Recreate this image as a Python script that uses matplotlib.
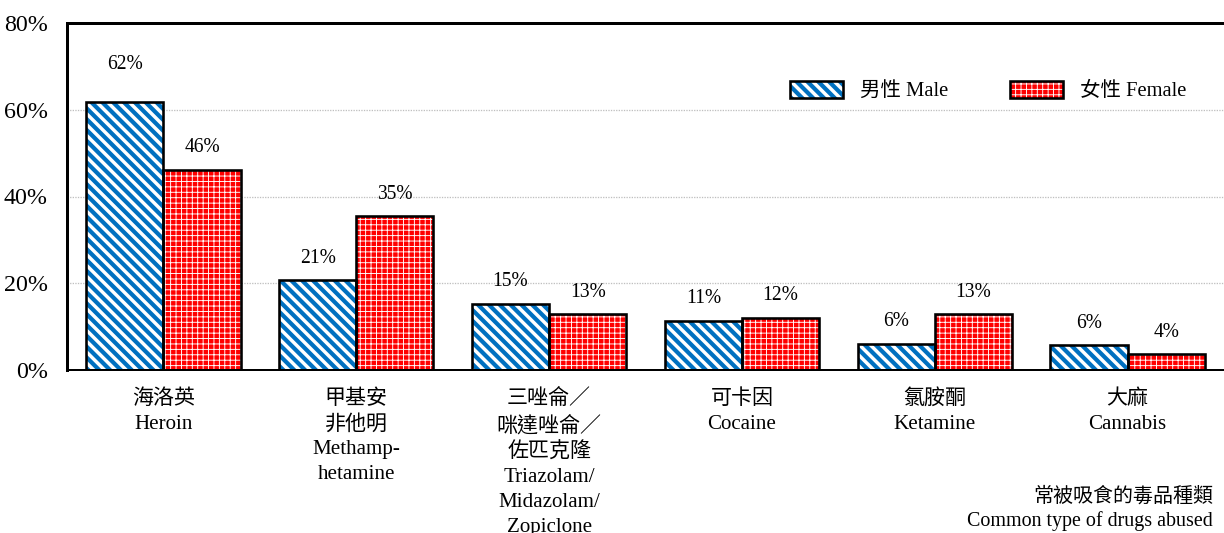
import matplotlib.pyplot as plt
import numpy as np
from matplotlib.patches import Patch
from matplotlib.ticker import FuncFormatter, MultipleLocator

DPI = 130

categories = [
    "海洛英\nHeroin",
    "甲基安\n非他明\nMethamp-\nhetamine",
    "三唑侖／\n咪達唑侖／\n佐匹克隆\nTriazolam/\nMidazolam/\nZopiclone",
    "可卡因\nCocaine",
    "氯胺酮\nKetamine",
    "大麻\nCannabis",
]
male = [61.8, 20.7, 15.3, 11.4, 6.1, 5.7]
female = [46.2, 35.4, 12.8, 12.0, 12.8, 3.6]
male_labels = ["62%", "21%", "15%", "11%", "6%", "6%"]
female_labels = ["46%", "35%", "13%", "12%", "13%", "4%"]
series_names = ["男性 Male", "女性 Female"]
x_title = "常被吸食的毒品種類\nCommon type of drugs abused"

BLUE = "#0070C0"
RED = "#FF0000"
MALE_HATCH = "\\\\\\\\"
FEMALE_HATCH = "++++"


def pt(px):
    # pixel size -> points at the figure dpi
    return px * 72 / DPI


MALE_HLW = pt(4.2)
FEMALE_HLW = pt(0.9)

plt.rcParams["font.family"] = ["Liberation Serif", "Noto Sans CJK TC"]

fig = plt.figure(figsize=(1224 / DPI, 533 / DPI), dpi=DPI)
ax = fig.add_axes([67 / 1224, 1 - 370 / 533, 1 - 67 / 1224, (370 - 23) / 533])

x = np.arange(len(categories))
width = 0.4


def set_hlw(patches, hlw):
    for p in patches:
        if hasattr(p, "set_hatch_linewidth"):
            p.set_hatch_linewidth(hlw)


def hatched(xs, vals, face, hcolor, hatch, hlw):
    with plt.rc_context({"hatch.linewidth": hlw}):
        bars = ax.bar(xs, vals, width, color=face, edgecolor=hcolor, hatch=hatch,
                      linewidth=0, zorder=2)
    set_hlw(bars, hlw)
    ax.bar(xs, vals, width, fill=False, edgecolor="black", linewidth=pt(2.6), zorder=3)


hatched(x - width / 2, male, "white", BLUE, MALE_HATCH, MALE_HLW)
hatched(x + width / 2, female, RED, "white", FEMALE_HATCH, FEMALE_HLW)

for i, (xi, v, s) in enumerate(zip(x - width / 2, male, male_labels)):
    lift = 37 if i == 0 else 22
    ax.annotate(s, (xi, v), xytext=(0, pt(lift)), textcoords="offset points",
                ha="center", va="center", fontsize=pt(19.5))
for xi, v, s in zip(x + width / 2, female, female_labels):
    ax.annotate(s, (xi, v), xytext=(0, pt(22)), textcoords="offset points",
                ha="center", va="center", fontsize=pt(19.5))

ax.set_xlim(-0.5, len(categories) - 0.5)
ax.set_ylim(0, 80)
ax.yaxis.set_major_locator(MultipleLocator(20))
ax.yaxis.set_major_formatter(FuncFormatter(lambda v, _: f"{v:.0f}%"))
ax.set_xticks(x)
ax.set_xticklabels(categories, linespacing=1.42)
ax.tick_params(axis="y", length=0, pad=pt(19), labelsize=pt(24))
ax.tick_params(axis="x", length=0, pad=pt(19), labelsize=pt(21))

ax.yaxis.grid(True, color="#BFBFBF", linestyle=(0, (1, 1)), linewidth=pt(1.3))
ax.set_axisbelow(True)

ax.spines["right"].set_visible(False)
ax.spines["left"].set_linewidth(pt(3))
ax.spines["top"].set_linewidth(pt(3))
ax.spines["bottom"].set_linewidth(pt(2))

fs = 20.5
handles = [
    (Patch(facecolor="white", edgecolor=BLUE, hatch=MALE_HATCH, linewidth=0),
     Patch(fill=False, edgecolor="black", linewidth=pt(2.6))),
    (Patch(facecolor=RED, edgecolor="white", hatch=FEMALE_HATCH, linewidth=0),
     Patch(fill=False, edgecolor="black", linewidth=pt(2.6))),
]
leg = ax.legend(handles, series_names, loc="center left",
                bbox_to_anchor=(790 / 1224, 1 - 91 / 533), bbox_transform=fig.transFigure,
                ncol=2, frameon=False, fontsize=pt(fs), handlelength=53 / fs,
                handleheight=19 / fs, handletextpad=17 / fs, columnspacing=62 / fs,
                borderpad=0, borderaxespad=0)
# legend draws copies of the patches; give them the hatch widths too
for art in leg.findobj(Patch):
    if art.get_hatch() == MALE_HATCH:
        set_hlw([art], MALE_HLW)
    elif art.get_hatch() == FEMALE_HATCH:
        set_hlw([art], FEMALE_HLW)

fig.text(1213 / 1224, 1 - 531 / 533, x_title, ha="right", va="bottom",
         multialignment="right", fontsize=pt(20), linespacing=1.3)

fig.savefig("out.png", dpi=DPI)
